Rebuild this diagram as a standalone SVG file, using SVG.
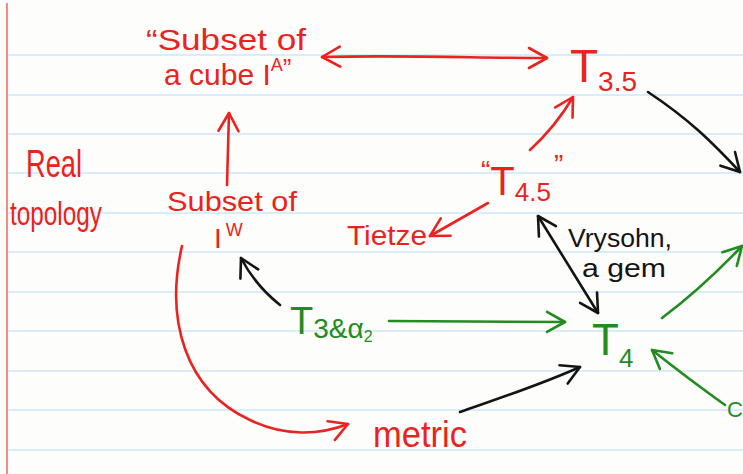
<svg xmlns="http://www.w3.org/2000/svg" width="743" height="474" viewBox="0 0 743 474">
  <style>
    .rule { stroke: #d9ecf9; stroke-width: 2; }
    .hand { font-family: "Liberation Sans", "DejaVu Sans", sans-serif; }
    .red { fill: #ea2320; }
    .green { fill: #228b22; }
    .black { fill: #141414; }
    .c { fill: none; stroke-width: 2.6; stroke-linecap: round; stroke-linejoin: round; }
    .cr { stroke: #ea2320; }
    .cg { stroke: #228b22; }
    .ck { stroke: #141414; }
  </style>
  <defs>
    <marker id="ah-red" viewBox="-22 -13 26 26" markerWidth="26" markerHeight="26" refX="0" refY="0" markerUnits="userSpaceOnUse" orient="auto-start-reverse">
      <path d="M-18,-10 L0,0 L-18,10" fill="none" stroke="#ea2320" stroke-width="2.6" stroke-linecap="round" stroke-linejoin="round"/>
    </marker>
    <marker id="ah-green" viewBox="-22 -13 26 26" markerWidth="26" markerHeight="26" refX="0" refY="0" markerUnits="userSpaceOnUse" orient="auto-start-reverse">
      <path d="M-18,-10 L0,0 L-18,10" fill="none" stroke="#228b22" stroke-width="2.6" stroke-linecap="round" stroke-linejoin="round"/>
    </marker>
    <marker id="ah-black" viewBox="-22 -13 26 26" markerWidth="26" markerHeight="26" refX="0" refY="0" markerUnits="userSpaceOnUse" orient="auto-start-reverse">
      <path d="M-18,-10 L0,0 L-18,10" fill="none" stroke="#141414" stroke-width="2.6" stroke-linecap="round" stroke-linejoin="round"/>
    </marker>
  </defs>

  <!-- ruled notebook paper -->
  <rect width="743" height="474" fill="#fdfdfb"/>
  <g id="paper">
    <line class="rule" x1="8" y1="55" x2="743" y2="55"/>
    <line class="rule" x1="8" y1="95" x2="743" y2="95"/>
    <line class="rule" x1="8" y1="134" x2="743" y2="134"/>
    <line class="rule" x1="8" y1="173" x2="743" y2="173"/>
    <line class="rule" x1="8" y1="213" x2="743" y2="213"/>
    <line class="rule" x1="8" y1="252" x2="743" y2="252"/>
    <line class="rule" x1="8" y1="292" x2="743" y2="292"/>
    <line class="rule" x1="8" y1="331" x2="743" y2="331"/>
    <line class="rule" x1="8" y1="371" x2="743" y2="371"/>
    <line class="rule" x1="8" y1="410" x2="743" y2="410"/>
    <line class="rule" x1="8" y1="450" x2="743" y2="450"/>
    <line x1="7" y1="3" x2="7" y2="474" stroke="#f26b6b" stroke-width="1.6"/>
  </g>

  <!-- connectors -->
  <g id="connectors">
    <path class="c cr" d="M322,57 C400,55 480,58 547,58" marker-start="url(#ah-red)" marker-end="url(#ah-red)"/>
    <path class="c cr" d="M530,150 Q556,126 573,97" marker-end="url(#ah-red)"/>
    <path class="c cr" d="M488,203 L430,236" marker-end="url(#ah-red)"/>
    <path class="c cr" d="M227,185 L229,113" marker-end="url(#ah-red)"/>
    <path class="c cr" d="M182,246 C165,320 185,390 250,420 C285,437 320,435 348,424" marker-end="url(#ah-red)"/>
    <path class="c ck" d="M648,92 C690,120 712,142 740,172" marker-end="url(#ah-black)"/>
    <path class="c ck" d="M280,305 Q255,285 241,258" marker-end="url(#ah-black)"/>
    <path class="c ck" d="M460,412 C500,398 540,385 580,367" marker-end="url(#ah-black)"/>
    <path class="c ck" d="M538,216 L598,313" marker-start="url(#ah-black)" marker-end="url(#ah-black)"/>
    <path class="c cg" d="M389,321 L565,322" marker-end="url(#ah-green)"/>
    <path class="c cg" d="M662,318 Q702,288 742,246" marker-end="url(#ah-green)"/>
    <path class="c cg" d="M725,405 Q690,380 652,350" marker-end="url(#ah-green)"/>
  </g>

  <!-- nodes -->
  <g id="real-topology" class="hand red">
    <text x="26" y="177" font-size="38" textLength="56" lengthAdjust="spacingAndGlyphs">Real</text>
    <text x="10" y="225" font-size="34" textLength="92" lengthAdjust="spacingAndGlyphs">topology</text>
  </g>

  <g id="cube-subset" class="hand red">
    <text x="146" y="50" font-size="30" textLength="160" lengthAdjust="spacingAndGlyphs">“Subset of</text>
    <text x="164" y="85" font-size="30">a cube I<tspan dy="-14" font-size="18">A</tspan><tspan dy="6" font-size="26">”</tspan></text>
  </g>

  <g id="t35" class="hand red">
    <text x="570" y="82" font-size="46">T<tspan dy="9" font-size="28">3.5</tspan></text>
  </g>

  <g id="t45" class="hand red">
    <text x="481" y="190" font-size="40"><tspan font-size="28" dy="-10">“</tspan><tspan dy="15">T</tspan><tspan dy="6" font-size="26">4.5</tspan><tspan dx="3" dy="-27" font-size="28">”</tspan></text>
  </g>

  <g id="tietze" class="hand red">
    <text x="347" y="245" font-size="28" textLength="80" lengthAdjust="spacingAndGlyphs">Tietze</text>
  </g>

  <g id="iw-subset" class="hand red">
    <text x="167" y="211" font-size="28" textLength="130" lengthAdjust="spacingAndGlyphs">Subset of</text>
    <text x="214" y="248" font-size="28">I<tspan dx="4" dy="-12" font-size="18">W</tspan></text>
  </g>

  <g id="metric" class="hand red">
    <text x="373" y="447" font-size="36" textLength="94" lengthAdjust="spacingAndGlyphs">metric</text>
  </g>

  <g id="t3-a2" class="hand green">
    <text x="290" y="334" font-size="38">T<tspan dy="4" font-size="28">3&amp;α</tspan><tspan dy="4" font-size="16">2</tspan></text>
  </g>

  <g id="t4" class="hand green">
    <text x="592" y="355" font-size="44">T<tspan dy="12" font-size="26">4</tspan></text>
  </g>

  <g id="urysohn-note" class="hand black">
    <text x="568" y="247" font-size="25" textLength="104" lengthAdjust="spacingAndGlyphs">Vrysohn,</text>
    <text x="582" y="277" font-size="25" textLength="84" lengthAdjust="spacingAndGlyphs">a gem</text>
  </g>

  <g id="edge-label" class="hand green">
    <text x="727" y="417" font-size="22">C</text>
  </g>
</svg>
